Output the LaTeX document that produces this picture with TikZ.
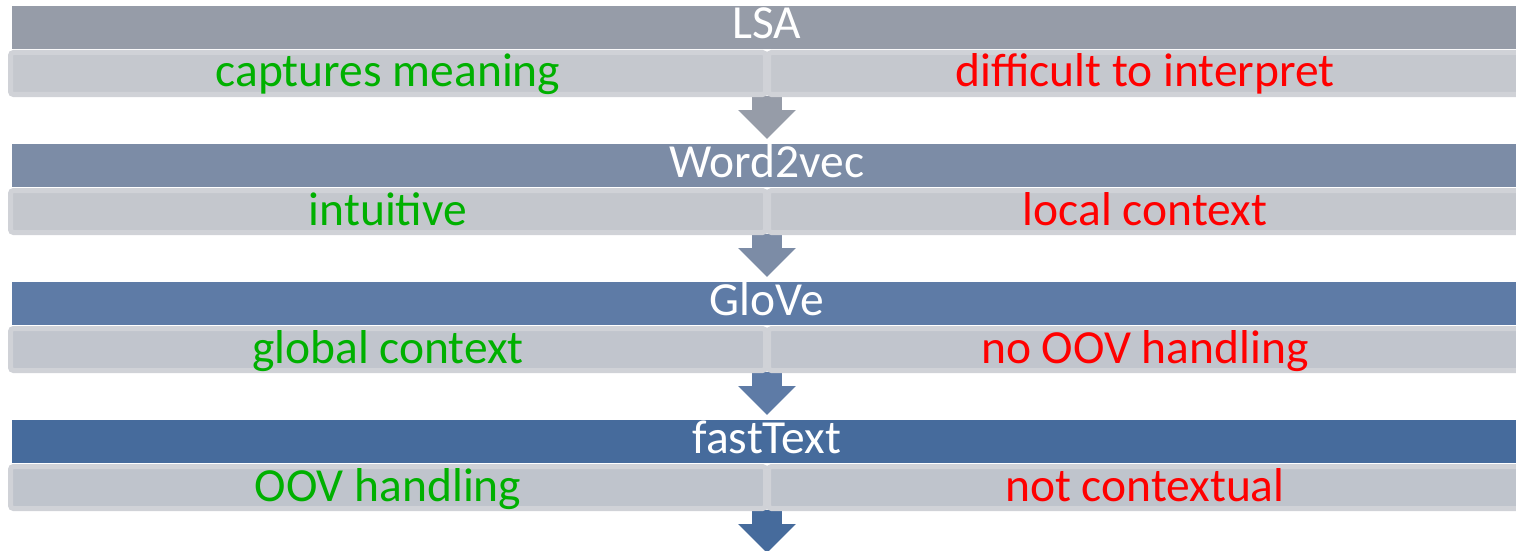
\documentclass[tikz,border=0pt]{standalone}
\usepackage{fontspec}
\setmainfont{Carlito}
\usetikzlibrary{arrows.meta}

% header bars, one shade per method
\definecolor{hdA}{HTML}{969CA8}
\definecolor{hdB}{HTML}{7C8CA6}
\definecolor{hdC}{HTML}{5E7BA6}
\definecolor{hdD}{HTML}{466B9C}
% pro/con bars
\definecolor{sbA}{HTML}{C5C8CE}
\definecolor{sbB}{HTML}{C4C7CD}
\definecolor{sbC}{HTML}{C1C5CD}
\definecolor{sbD}{HTML}{BFC4CC}
\definecolor{sbedge}{HTML}{D0D2D7}
\definecolor{progreen}{HTML}{00B000}
\definecolor{conred}{HTML}{FF0000}

\tikzset{
  big/.style={font=\fontsize{47.5pt}{56pt}\selectfont, inner sep=0pt, anchor=base},
  headbar/.style={fill=#1, draw=none, minimum width=1510pt, minimum height=43pt,
    inner sep=0pt, anchor=north west},
  halfbox/.style={fill=#1, draw=sbedge, line width=5pt, rounded corners=3pt},
  flow/.style={draw=#1, line width=30pt, line cap=butt,
    -{Triangle[width=56pt,length=29pt,fill=#1]}},
}

\begin{document}
\begin{tikzpicture}[x={(1pt,0pt)}, y={(0pt,-1pt)}]
\useasboundingbox (0,0) rectangle (1516,551);

% flow arrows sit underneath the bars
\foreach \k/\c in {0/hdA,1/hdB,2/hdC,3/hdD}{
  \coordinate (from\k) at (767,{96+138*\k});
  \coordinate (to\k) at (767,{139+138*\k});
  \draw[flow=\c] (from\k) -- (to\k);
}

% one row per method: title bar, then pro (left) and con (right)
\foreach \k/\hc/\sc/\title/\pro/\con in {
  0/hdA/sbA/LSA/captures meaning/difficult to interpret,
  1/hdB/sbB/Word2vec/intuitive/local context,
  2/hdC/sbC/GloVe/global context/no OOV handling,
  3/hdD/sbD/fastText/OOV handling/not contextual}{
  \node[headbar=\hc] (head\k) at (12,{6+138*\k}) {};
  \node[big, text=white] (title\k) at (767,{39+138*\k}) {\title};
  \path[halfbox=\sc] (10.5,{52.5+138*\k}) rectangle (765.5,{94.5+138*\k});
  \path[halfbox=\sc] (768.5,{52.5+138*\k}) rectangle (1525,{94.5+138*\k});
  \node[big, text=progreen] (pro\k) at (388,{87+138*\k}) {\pro};
  \node[big, text=conred] (con\k) at (1145,{87+138*\k}) {\con};
}
\end{tikzpicture}
\end{document}
